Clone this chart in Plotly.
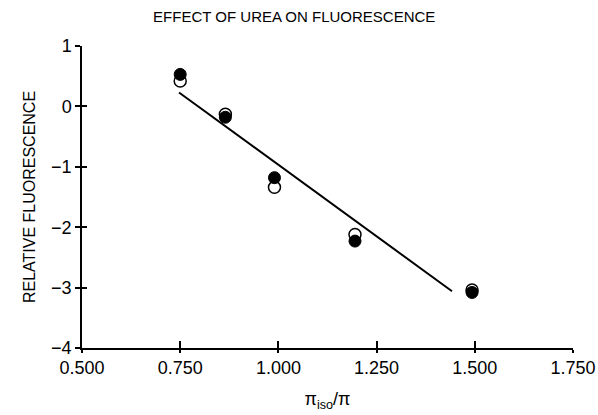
import plotly.graph_objects as go

# Data
x_filled = [0.75, 0.865, 0.99, 1.195, 1.493]
y_filled = [0.53, -0.18, -1.18, -2.23, -3.08]
x_open = [0.75, 0.865, 0.99, 1.195, 1.493]
y_open = [0.42, -0.13, -1.34, -2.12, -3.04]
x_fit = [0.747, 1.442]
y_fit = [0.23, -3.06]

x_ticks = [0.5, 0.75, 1.0, 1.25, 1.5, 1.75]
x_ticklabels = ["0.500", "0.750", "1.000", "1.250", "1.500", "1.750"]
y_ticks = [-4, -3, -2, -1, 0, 1]
y_ticklabels = ["\u22124", "\u22123", "\u22122", "\u22121", "0", "1"]

font_main = "Liberation Sans"

fig = go.Figure()
fig.add_trace(go.Scatter(x=x_fit, y=y_fit, mode="lines",
                         line=dict(color="black", width=2), showlegend=False))
fig.add_trace(go.Scatter(x=x_open, y=y_open, mode="markers",
                         marker=dict(size=12, color="white", line=dict(color="black", width=1.5)),
                         showlegend=False))
fig.add_trace(go.Scatter(x=x_filled, y=y_filled, mode="markers",
                         marker=dict(size=12, color="black", line=dict(color="black", width=1)),
                         showlegend=False))
# invisible trace on overlay axes
fig.add_trace(go.Scatter(x=[0.5], y=[-4], mode="markers", marker=dict(opacity=0),
                         xaxis="x2", yaxis="y2", showlegend=False, hoverinfo="skip"))

axis_common = dict(showgrid=False, zeroline=False, showline=True, linecolor="black",
                   linewidth=1.5, tickcolor="black", tickwidth=1.5, automargin=False)

fig.update_layout(
    width=598, height=415,
    paper_bgcolor="white", plot_bgcolor="white",
    margin=dict(l=82, r=25, t=46, b=67),
    title=dict(text="EFFECT OF UREA ON FLUORESCENCE", x=0.492, xanchor="center",
               y=0.96, yanchor="middle",
               font=dict(family=font_main, size=15, color="black")),
    xaxis=dict(range=[0.5, 1.75], tickvals=x_ticks, ticktext=x_ticklabels,
               ticks="outside", ticklen=3,
               tickfont=dict(family=font_main, size=18, color="black"),
               title=dict(text="\u03c0<sub>iso</sub>/\u03c0", standoff=15,
                          font=dict(family=font_main, size=18, color="black")),
               **axis_common),
    yaxis=dict(range=[-4, 1], tickvals=y_ticks, ticktext=y_ticklabels,
               ticks="outside", ticklen=5,
               tickfont=dict(family=font_main, size=18, color="black"),
               title=dict(text="RELATIVE FLUORESCENCE", standoff=12,
                          font=dict(family=font_main, size=16, color="black")),
               **axis_common),
    xaxis2=dict(overlaying="x", matches="x", range=[0.5, 1.75], tickvals=x_ticks,
                ticks="inside", ticklen=7, showticklabels=False, side="bottom",
                **axis_common),
    yaxis2=dict(overlaying="y", matches="y", range=[-4, 1], tickvals=y_ticks,
                ticks="inside", ticklen=5, showticklabels=False, side="left",
                **axis_common),
)

fig.write_html("out.html", config={"displayModeBar": False},
               post_script="document.body.style.margin='0';")
